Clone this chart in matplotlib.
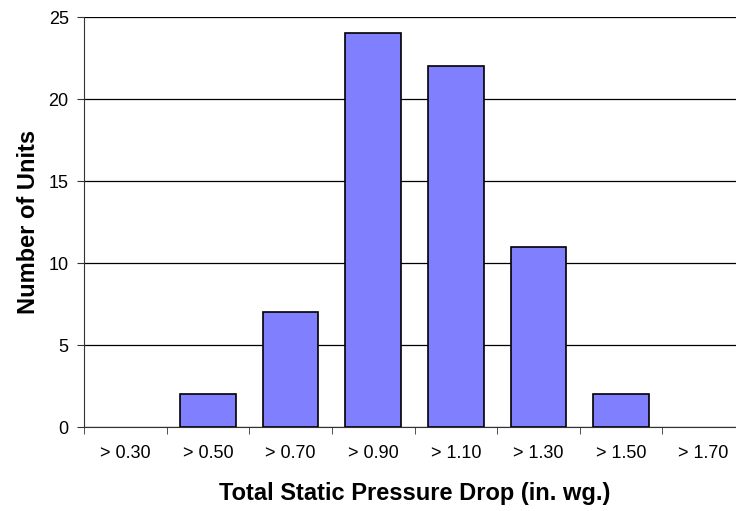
import matplotlib
matplotlib.use("Agg")
import matplotlib.pyplot as plt
import numpy as np

categories = ["> 0.30", "> 0.50", "> 0.70", "> 0.90", "> 1.10", "> 1.30", "> 1.50", "> 1.70"]
counts = [0, 2, 7, 24, 22, 11, 2, 0]
yticks = [0, 5, 10, 15, 20, 25]

plt.rcParams['font.family'] = ['Liberation Sans', 'DejaVu Sans']

fig = plt.figure(figsize=(7.36, 5.11), dpi=100)
W, H = 736, 511
left, right, bottom, top = 84, 745, 427, 17
ax = fig.add_axes([left / W, (H - bottom) / H, (right - left) / W, (bottom - top) / H])

x = np.arange(len(categories))
lw = [1.2 if c > 0 else 0 for c in counts]
ax.bar(x, counts, width=0.675, color='#8080FF', edgecolor='black', linewidth=lw, zorder=3)

ax.set_xlim(-0.5, len(categories) - 0.5)
ax.set_ylim(0, 25)
ax.set_yticks(yticks)
ax.set_yticklabels([str(v) for v in yticks], fontsize=13)
ax.set_xticks(x)
ax.set_xticklabels(categories, fontsize=13)
ax.set_xticks(np.arange(len(categories) + 1) - 0.5, minor=True)
ax.tick_params(axis='x', which='major', length=0, pad=13)
ax.tick_params(axis='x', which='minor', length=5, direction='out', color='#333333')
ax.tick_params(axis='y', length=5, direction='out', color='#333333', pad=6)

ax.yaxis.grid(True, color='black', linewidth=0.9, zorder=0)
ax.set_axisbelow(True)
for s in ['top', 'right']:
    ax.spines[s].set_visible(False)
ax.spines['left'].set_color('#333333')
ax.spines['bottom'].set_color('#333333')

ax.set_xlabel("Total Static Pressure Drop (in. wg.)", fontsize=17, fontweight='bold', labelpad=14)
ax.set_ylabel("Number of Units", fontsize=17, fontweight='bold', labelpad=6)

fig.savefig("out.png", dpi=100)
